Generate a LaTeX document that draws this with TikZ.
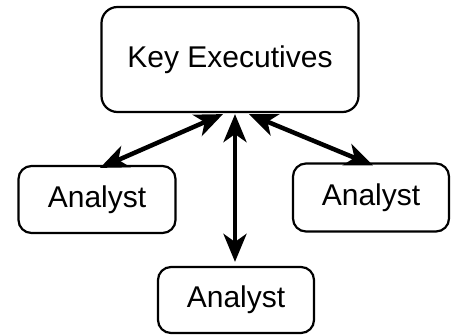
\documentclass[tikz,border=0pt]{standalone}
\usepackage{fontspec}
\setmainfont{Liberation Sans}
\usetikzlibrary{arrows.meta}
\usetikzlibrary{calc,shapes}

\begin{document}
\begin{tikzpicture}[x=1pt,y=-1pt,
    box/.style={draw,line width=2.2pt,rounded corners=13pt,font=\fontsize{30}{36}\selectfont,inner sep=0pt},
    tip/.tip={Stealth[length=28pt,width=23pt,inset=8pt]},
    link/.style={line width=4.5pt,tip-tip}]
\useasboundingbox (0,0) rectangle (458,335);
% Boîtes
\node [box,minimum width=257pt,minimum height=105pt,rounded corners=16pt] (key) at (230,59.5) {Key Executives};
\node [box,minimum width=157pt,minimum height=67pt] (left) at (97,199.5) {Analyst};
\node [box,minimum width=156pt,minimum height=68pt] (right) at (371,197.5) {Analyst};
\node [box,minimum width=156pt,minimum height=66pt] (bottom) at (236,300) {Analyst};
% Flèches
\draw [link] ([xshift=-7pt,yshift=-1pt]key.south) -- ([xshift=3pt,yshift=-3pt]left.north);
\draw [link] ([xshift=5pt,yshift=-1pt]key.south) -- ([xshift=-1pt,yshift=4pt]bottom.north);
\draw [link] ([xshift=19pt,yshift=-1pt]key.south) -- ([xshift=2pt,yshift=-3pt]right.north);
\end{tikzpicture}
\end{document}
